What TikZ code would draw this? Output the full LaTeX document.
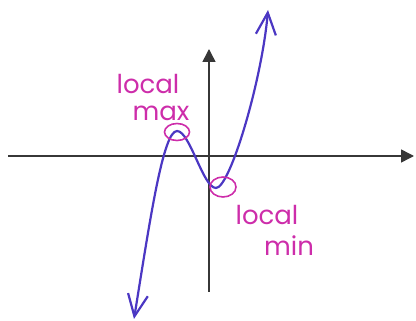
\documentclass[tikz,border=0pt]{standalone}
\usepackage{fontspec}
\setmainfont{Poppins}
\usetikzlibrary{arrows.meta,shapes.geometric}
\definecolor{pen}{RGB}{205,45,170}
\definecolor{curve}{RGB}{75,55,195}
\definecolor{axis}{RGB}{55,55,55}
\tikzset{
  axisline/.style={draw=axis, line width=1.5pt, -{Triangle[length=13pt,width=13pt]}},
  graphline/.style={draw=curve, line width=2.2pt, line cap=round, line join=round,
    {Straight Barb[length=22pt,width=20pt,line width=2.2pt]}-{Straight Barb[length=22pt,width=20pt,line width=2.2pt]}},
  ring/.style={draw=pen, line width=1.6pt},
  hand/.style={text=pen, inner sep=0pt, font=\fontsize{26}{26}\selectfont}
}
\begin{document}
\begin{tikzpicture}[x=1pt,y=-1pt]
\useasboundingbox (0,0) rectangle (416,321);
\coordinate (xl) at (8,156);
\coordinate (xr) at (414,156);
\coordinate (yb) at (209,292);
\coordinate (yt) at (209,49);
\coordinate (cb) at (134,319);
\coordinate (cmax) at (177,131);
\coordinate (cmin) at (216,188);
\coordinate (ct) at (268,10);
\draw[axisline] (xl) -- (xr);
\draw[axisline] (yb) -- (yt);
\draw[graphline] (cb) .. controls (150,220) and (163,131) .. (cmax)
  .. controls (190,131) and (203,188) .. (cmin)
  .. controls (230,188) and (262,80) .. (ct);
\node[ring, ellipse, minimum width=25pt, minimum height=17pt, inner sep=0pt] (maxring) at (177,132) {};
\node[ring, ellipse, minimum width=26pt, minimum height=20pt, inner sep=0pt] (minring) at (223,187) {};
\node[hand, anchor=base] (l1) at (148,94) {local};
\node[hand, anchor=base] (m1) at (161,121) {max};
\node[hand, anchor=base] (l2) at (267,225) {local};
\node[hand, anchor=base] (m2) at (289,255) {min};
\end{tikzpicture}
\end{document}
